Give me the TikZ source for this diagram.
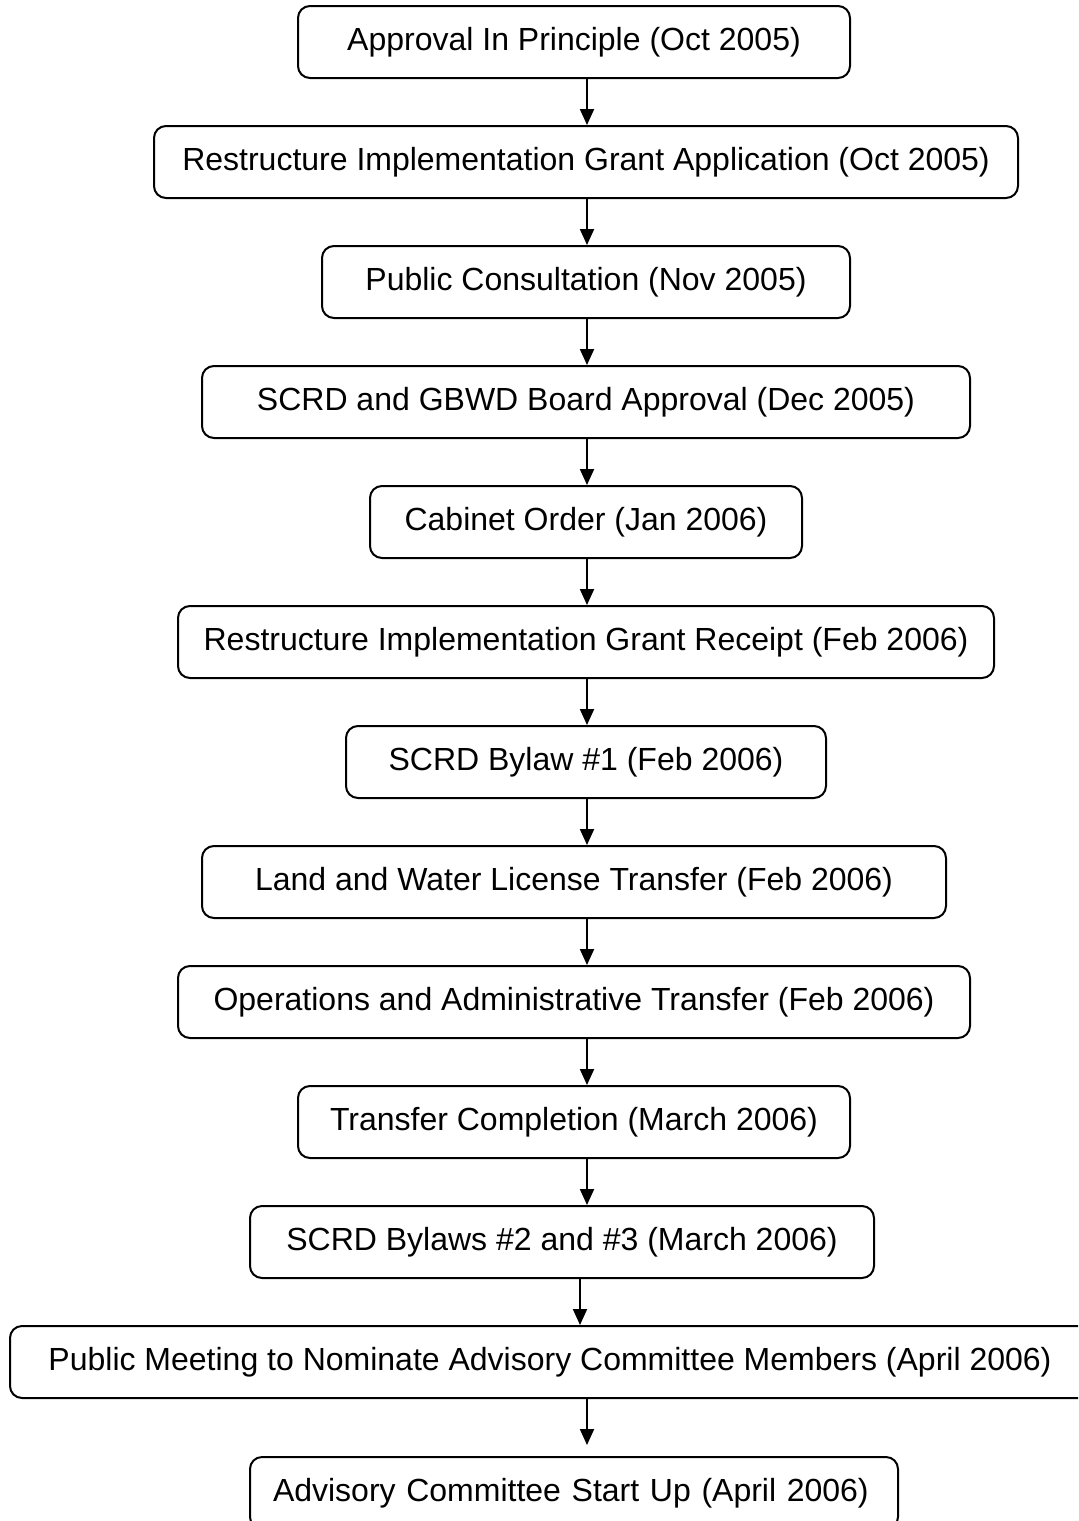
\documentclass[tikz,border=0pt]{standalone}
\usepackage{fontspec}
\setmainfont{Liberation Sans}
\usetikzlibrary{arrows.meta, calc}

\begin{document}
\begin{tikzpicture}[x=0.5pt, y=-0.5pt,
        stage/.style={draw, line width=1pt, rounded corners=6pt,
            minimum height=36pt, inner sep=0pt,
            font=\fontsize{16}{19}\selectfont},
        flow/.style={line width=1pt, -{Triangle[length=8pt, width=7pt]}}]
        \clip (0, 0) rectangle (1078, 1521);
        \useasboundingbox (0, 0) rectangle (1078, 1521);
        \coordinate (spine) at (587, 0);
        \coordinate (spineb) at (580, 0);
        % stages, top to bottom
        \node[stage, minimum width=276pt] (aip) at (574, 42) {Approval In Principle (Oct 2005)};
        \node[stage, minimum width=432pt] (grantapp) at (586, 162) {Restructure Implementation Grant Application (Oct 2005)};
        \node[stage, minimum width=264pt] (consult) at (586, 282) {Public Consultation (Nov 2005)};
        \node[stage, minimum width=384pt] (board) at (586, 402) {SCRD and GBWD Board Approval (Dec 2005)};
        \node[stage, minimum width=216pt] (cabinet) at (586, 522) {Cabinet Order (Jan 2006)};
        \node[stage, minimum width=408pt] (grantrec) at (586, 642) {Restructure Implementation Grant Receipt (Feb 2006)};
        \node[stage, minimum width=240pt] (bylaw) at (586, 762) {SCRD Bylaw \#1 (Feb 2006)};
        \node[stage, minimum width=372pt] (land) at (574, 882) {Land and Water License Transfer (Feb 2006)};
        \node[stage, minimum width=396pt] (ops) at (574, 1002) {Operations and Administrative Transfer (Feb 2006)};
        \node[stage, minimum width=276pt] (done) at (574, 1122) {Transfer Completion (March 2006)};
        \node[stage, minimum width=312pt] (bylaws) at (562, 1242) {SCRD Bylaws \#2 and \#3 (March 2006)};
        \node[stage, minimum width=540pt] (meeting) at (550, 1362) {Public Meeting to Nominate Advisory Committee Members (April 2006)};
        \node[stage, minimum width=324pt, text width=301pt, inner xsep=11.5pt, align=left] (startup) at (574, 1493) {Advisory Committee Start Up (April 2006)};
        % arrows
        \draw[flow] (aip.south -| spine) -- (grantapp.north -| spine);
        \draw[flow] (grantapp.south -| spine) -- (consult.north -| spine);
        \draw[flow] (consult.south -| spine) -- (board.north -| spine);
        \draw[flow] (board.south -| spine) -- (cabinet.north -| spine);
        \draw[flow] (cabinet.south -| spine) -- (grantrec.north -| spine);
        \draw[flow] (grantrec.south -| spine) -- (bylaw.north -| spine);
        \draw[flow] (bylaw.south -| spine) -- (land.north -| spine);
        \draw[flow] (land.south -| spine) -- (ops.north -| spine);
        \draw[flow] (ops.south -| spine) -- (done.north -| spine);
        \draw[flow] (done.south -| spine) -- (bylaws.north -| spine);
        \draw[flow] (bylaws.south -| spineb) -- (meeting.north -| spineb);
        \draw[flow] (meeting.south -| spine) -- ($(startup.north -| spine)+(0, -11)$);
    \end{tikzpicture}
\end{document}
